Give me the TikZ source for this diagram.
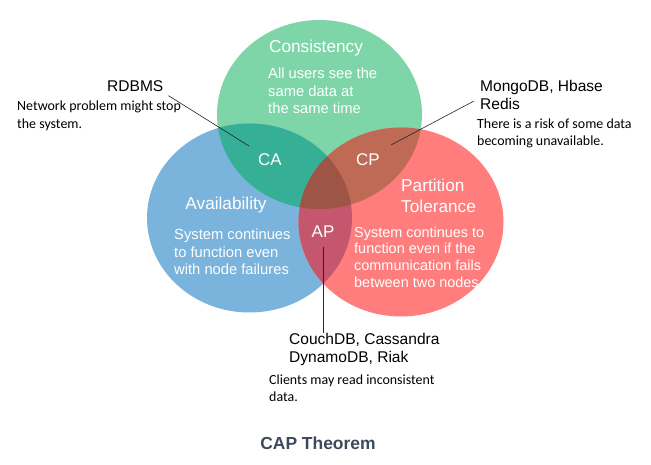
\documentclass[tikz,border=0pt]{standalone}
\usepackage{fontspec}
\setmainfont{Liberation Sans}
\newfontfamily\notefont{Carlito}
\definecolor{cG}{HTML}{7DD5A8}
\definecolor{cB}{HTML}{7AB3DB}
\definecolor{cR}{HTML}{FF7D7D}
\definecolor{cCA}{HTML}{35AF96}
\definecolor{cCP}{HTML}{BE6A55}
\definecolor{cAP}{HTML}{C4576E}
\definecolor{cMid}{HTML}{9E5545}
\definecolor{ctitle}{HTML}{3D4A5B}
\tikzset{
  rad/.style={x radius=102.5, y radius=94.5},
  lbl/.style={text=white, font=\fontsize{17}{20}\selectfont, inner sep=0},
  head/.style={text=white, font=\fontsize{17.3}{21}\selectfont, inner sep=0, align=left},
  body/.style={text=white, font=\fontsize{14.8}{17.5}\selectfont, align=left, inner sep=0, anchor=west},
  db/.style={text=black, font=\fontsize{15.6}{18.5}\selectfont, align=left, anchor=west, inner sep=0},
  note/.style={text=black, font=\notefont\fontsize{14}{17.5}\selectfont, align=left, anchor=west, inner sep=0},
  pointer/.style={draw=black!85, line width=0.6bp},
}
\begin{document}
\begin{tikzpicture}[x=1bp,y=-1bp]
\path[use as bounding box] (0,0) rectangle (651,465);
\coordinate (G) at (319.5,114.5);
\coordinate (B) at (249.5,218);
\coordinate (R) at (401,222);
% base circles
\fill[cG] (G) ellipse [rad];
\fill[cB] (B) ellipse [rad];
\fill[cR] (R) ellipse [rad];
% pairwise overlaps
\begin{scope}\clip (G) ellipse [rad]; \fill[cCA] (B) ellipse [rad];\end{scope}
\begin{scope}\clip (G) ellipse [rad]; \fill[cCP] (R) ellipse [rad];\end{scope}
\begin{scope}\clip (B) ellipse [rad]; \fill[cAP] (R) ellipse [rad];\end{scope}
\begin{scope}\clip (G) ellipse [rad]; \clip (B) ellipse [rad]; \fill[cMid] (R) ellipse [rad];\end{scope}
% circle texts
\node[head] (cons) at (316,48) {Consistency};
\node[body] (consd) at (268,91) {All users see the\\same data at\\the same time};
\node[head] (avail) at (226,205) {Availability};
\node[body] (availd) at (174,252) {System continues\\to function even\\with node failures};
\node[head, anchor=west, text width=90bp] (part) at (401,196) {Partition\\Tolerance};
\node[body, font=\fontsize{14.5}{16.8}\selectfont] (partd) at (354,257) {System continues to\\function even if the\\communication fails\\between two nodes};
\node[lbl] (ca) at (270,160) {CA};
\node[lbl] (cp) at (368,160) {CP};
\node[lbl] (ap) at (323,232) {AP};
% outside labels
\node[db] (rdbms) at (107,86) {RDBMS};
\node[note] (rdn) at (17,116) {Network problem might stop\\the system.};
\node[db] (mongo) at (480,95) {MongoDB, Hbase\\Redis};
\node[note] (mgn) at (477,133.5) {There is a risk of some data\\becoming unavailable.};
\node[db] (couch) at (289,349.5) {CouchDB, Cassandra\\DynamoDB, Riak};
\node[note] (cn) at (269,388) {Clients may read inconsistent\\data.};
\node[text=ctitle, font=\bfseries\fontsize{17.5}{20}\selectfont, inner sep=0] (title) at (318,443) {CAP Theorem};
% pointers
\coordinate (caend) at (249,146);
\coordinate (cpend) at (391,145);
\coordinate (apend) at (323,247);
\draw[pointer] ([shift={(5,4)}]rdbms.south east) -- (caend);
\draw[pointer] ([shift={(-6,0)}]mongo.west |- 0,101) -- (cpend);
\draw[pointer] (apend) -- (apend |- couch.north);
\end{tikzpicture}
\end{document}
